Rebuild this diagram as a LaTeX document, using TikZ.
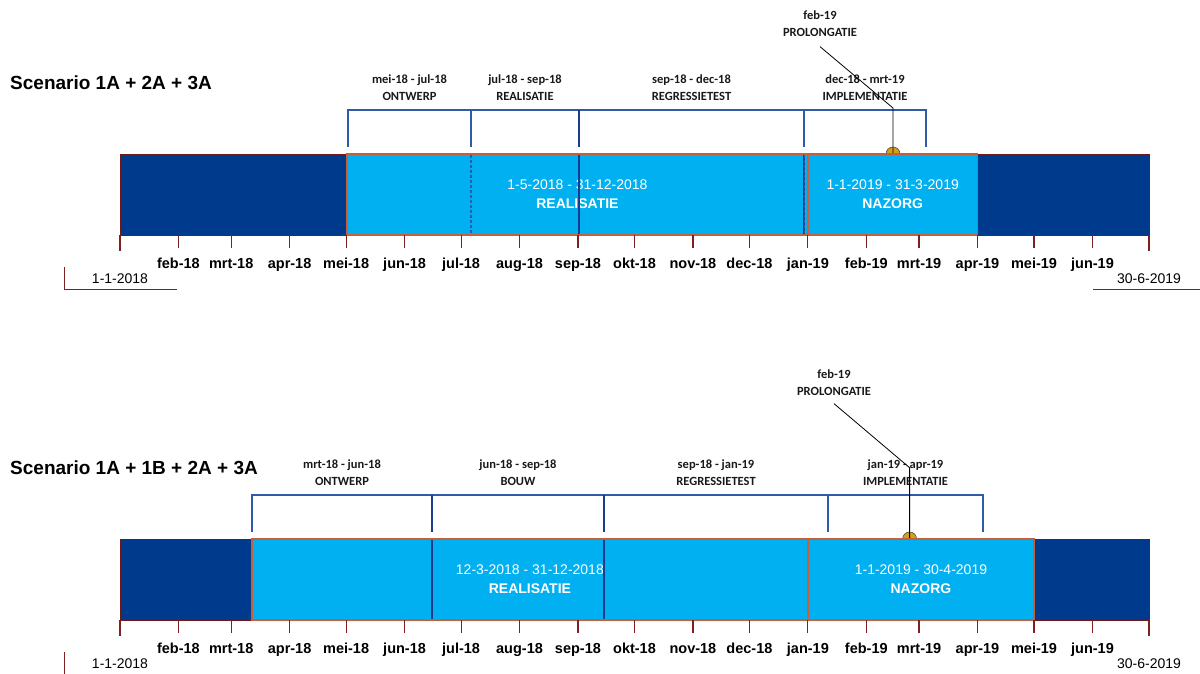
\documentclass[tikz,border=0pt]{standalone}
\usepackage{fontspec}
\setmainfont{Liberation Sans}
\newfontfamily\calibri{Carlito}
\definecolor{navy}{HTML}{003A8C}
\definecolor{skyblue}{HTML}{00B0F0}
\definecolor{darkedge}{HTML}{6E1A1A}
\definecolor{lightedge}{HTML}{C4603C}
\definecolor{tickred}{HTML}{7F2020}
\definecolor{bracketblue}{HTML}{2F5BA8}
\definecolor{divblue}{HTML}{1B3C8C}
\definecolor{gold}{HTML}{D4A017}
\tikzset{
  >=latex,
  x=1pt, y=-1pt,
}
\tikzstyle{tick}=[draw=tickred, line width=1.2pt]
\tikzstyle{marker}=[draw=tickred, line width=1pt]
\tikzstyle{month}=[font=\fontsize{14.5}{16}\selectfont\bfseries, inner sep=0pt, anchor=base]
\tikzstyle{datelbl}=[font=\fontsize{14}{16}\selectfont, inner sep=0pt, anchor=base]
\tikzstyle{title}=[font=\fontsize{19}{22}\selectfont\bfseries, inner sep=0pt, anchor=west]
\tikzstyle{darkseg}=[draw=darkedge, fill=navy, line width=1pt, inner sep=0pt, outer sep=0pt, minimum height=81pt]
\tikzstyle{lightseg}=[draw=lightedge, fill=skyblue, line width=1.2pt, inner sep=0pt, outer sep=0pt, minimum height=81pt,
  text=white, align=center, font=\fontsize{14}{19}\selectfont]
\tikzstyle{bracket}=[draw=bracketblue, line width=1.2pt]
\tikzstyle{divider}=[draw=divblue, line width=1.6pt]
\tikzstyle{phase}=[font=\calibri\bfseries\fontsize{12.5}{17}\selectfont, align=center, inner sep=0pt, text=black!90]
\tikzstyle{pin}=[draw=black, line width=0.8pt]
\tikzstyle{milestone}=[circle, draw=black!70, fill=gold, line width=0.6pt, minimum size=14pt, inner sep=0pt]

\begin{document}
\begin{tikzpicture}
  \useasboundingbox (0,0) rectangle (1200,673);
  \clip (0,0) rectangle (1200,673);

  % scenario A
  \node[title] (titleA) at (10,83) {Scenario 1A + 2A + 3A};
  \draw[bracket] (348,147) |- (926,110) -- (926,147);
  \draw[bracket] (471,110) -- (471,147);
  \draw[bracket] (804,110) -- (804,147);
  \draw[divider] (579,110) -- (579,147);
  \node[phase] (ontwA) at (409.5,87.5) {mei-18 - jul-18\\ONTWERP};
  \node[phase] (realphA) at (525,87.5) {jul-18 - sep-18\\REALISATIE};
  \node[phase] (regrA) at (691.5,87.5) {sep-18 - dec-18\\REGRESSIETEST};
  \node[phase] (implA) at (865,87.5) {dec-18 - mrt-19\\IMPLEMENTATIE};
  \node[phase] (prolA) at (820,23.5) {feb-19\\PROLONGATIE};
  \node[milestone] (mileA) at (893,154) {};
  \coordinate (kneeA) at (893,108);
  \draw[pin] (prolA.south) ++(0,10) -- (kneeA) -- (mileA.center);
  \node[darkseg, minimum width=227pt] (darkA1) at (233.5,194.5) {};
  \node[darkseg, minimum width=171.5pt] (darkA2) at (1063.25,194.5) {};
  \node[lightseg, minimum width=460.9pt] (realA) at (577.45,194.5) {1-5-2018 - 31-12-2018\\\textbf{REALISATIE}};
  \node[lightseg, minimum width=169.6pt] (nazA) at (892.7,194.5) {1-1-2019 - 31-3-2019\\\textbf{NAZORG}};
  \draw[bracket, dash pattern=on 3pt off 2pt] (471,154.6) -- (471,234.4);
  \draw[divider] (579,154.6) -- (579,234.4);
  \draw[divider] (804,154.6) -- (804,234.4);
  \draw[bracket, line width=0.6pt, dash pattern=on 3pt off 2pt] (804,154.6) -- (804,234.4);

  % scenario B
  \begin{scope}[yshift=-385pt]
    \node[title] (titleB) at (10,83) {Scenario 1A + 1B + 2A + 3A};
    \draw[bracket] (252,147) |- (983,110) -- (983,147);
    \draw[bracket] (828,110) -- (828,147);
    \draw[divider] (432,110) -- (432,147);
    \draw[divider] (604,110) -- (604,147);
    \node[phase] (ontwB) at (342,87.5) {mrt-18 - jun-18\\ONTWERP};
    \node[phase] (bouwB) at (518,87.5) {jun-18 - sep-18\\BOUW};
    \node[phase] (regrB) at (716,87.5) {sep-18 - jan-19\\REGRESSIETEST};
    \node[phase] (implB) at (905.5,87.5) {jan-19 - apr-19\\IMPLEMENTATIE};
    \node[phase] (prolB) at (834,-2.5) {feb-19\\PROLONGATIE};
    \node[milestone] (mileB) at (909.6,154) {};
    \coordinate (kneeB) at (909.6,82.7);
    \draw[pin] (prolB.south) ++(0,8) -- (kneeB) -- (mileB.center);
    \node[darkseg, minimum width=131.9pt] (darkB1) at (185.95,194.5) {};
    \node[darkseg, minimum width=115pt] (darkB2) at (1091.5,194.5) {};
    \node[lightseg, minimum width=556pt] (realB) at (529.9,194.5) {12-3-2018 - 31-12-2018\\\textbf{REALISATIE}};
    \node[lightseg, minimum width=226.1pt] (nazB) at (920.95,194.5) {1-1-2019 - 30-4-2019\\\textbf{NAZORG}};
    \draw[divider] (432,154.6) -- (432,234.4);
    \draw[divider] (604,154.6) -- (604,234.4);
    \draw[draw=lightedge, line width=1.2pt, dash pattern=on 3pt off 3pt] (252,154.6) -- (252,234.4);
  \end{scope}

  % time axis, both scenarios
  \foreach \sc/\oy in {A/0,B/385}{
    \begin{scope}[yshift=-\oy pt]
      \foreach \d/\m in {31/feb-18,59/mrt-18,90/apr-18,120/mei-18,151/jun-18,181/jul-18,
                         212/aug-18,243/sep-18,273/okt-18,304/nov-18,334/dec-18,365/jan-19,
                         396/feb-19,424/mrt-19,455/apr-19,485/mei-19,516/jun-19}{
        \draw[tick] ({120+\d*1.8846},235) -- ++(0,13);
        \node[month] (\sc-\m) at ({120+\d*1.8846},268) {\m};
      }
      \draw[tick] (120,235) -- ++(0,16);
      \draw[tick] (1149,235) -- ++(0,16);
      \node[datelbl] (start\sc) at (120,283) {1-1-2018};
      \node[datelbl] (end\sc) at (1149,283) {30-6-2019};
      \draw[marker] (64,267) |- (177,289);
      \draw[marker] (1093,289) -- (1200,289);
    \end{scope}
  }
\end{tikzpicture}
\end{document}
